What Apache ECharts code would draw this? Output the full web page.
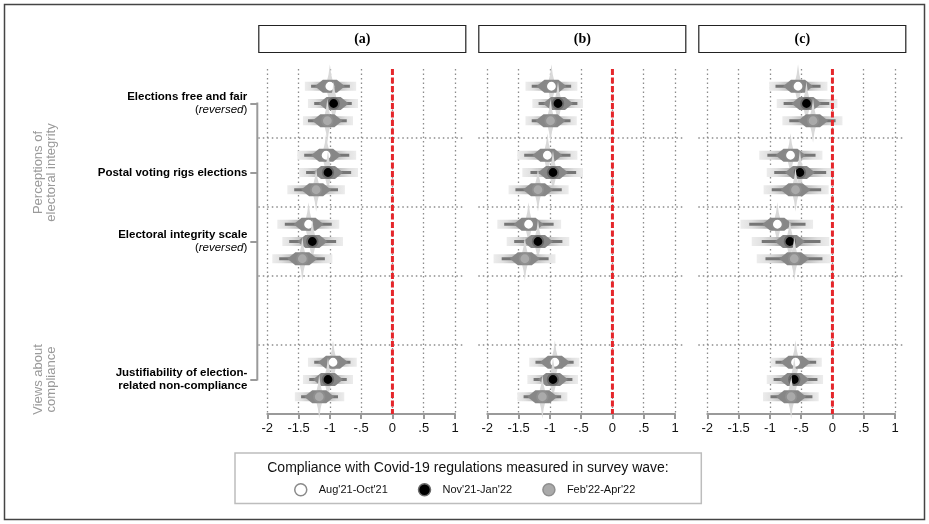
<!DOCTYPE html>
<html>
<head>
<meta charset="utf-8">
<script src="https://cdn.jsdelivr.net/npm/echarts@6/dist/echarts.min.js"></script>
<style>html,body{margin:0;padding:0;background:#fff}#chart{width:929px;height:524px}</style>
</head>
<body>
<div id="chart"></div>
<script>
// ---------------- data ----------------
const panels = ['(a)', '(b)', '(c)'];
const waves = ["Aug'21-Oct'21", "Nov'21-Jan'22", "Feb'22-Apr'22"];
const rowLabels = ['Elections free and fair\n(reversed)', 'Postal voting rigs elections', 'Electoral integrity scale\n(reversed)', '', 'Justifiability of election-\nrelated non-compliance'];
const rowIndex = [0, 1, 2, 4];            // rows that carry estimates
const separators = [1, 2, 3, 4];          // dotted row boundaries
const groupLabels = ['Perceptions of\nelectoral integrity', 'Views about\ncompliance'];
const legendTitle = 'Compliance with Covid-19 regulations measured in survey wave:';

// panel (a): rows = [free&fair, postal, integrity scale, justifiability]; one array per wave
const a_est    = [[-1.00, -1.06, -1.34, -0.95], [-0.94, -1.03, -1.28, -1.03], [-1.04, -1.22, -1.44, -1.17]];
const a_bandLo = [[-1.40, -1.52, -1.84, -1.35], [-1.35, -1.49, -1.76, -1.43], [-1.43, -1.68, -1.92, -1.56]];
const a_bandHi = [[-0.58, -0.58, -0.85, -0.57], [-0.55, -0.55, -0.79, -0.63], [-0.63, -0.76, -0.96, -0.77]];
const a_lineLo = [[-1.30, -1.41, -1.72, -1.25], [-1.25, -1.38, -1.65, -1.33], [-1.35, -1.57, -1.81, -1.46]];
const a_lineHi = [[-0.68, -0.69, -0.97, -0.67], [-0.65, -0.66, -0.90, -0.73], [-0.73, -0.87, -1.08, -0.87]];
// panel (b)
const b_est    = [[-0.975, -1.04, -1.34, -0.92], [-0.87, -0.95, -1.19, -0.95], [-0.99, -1.19, -1.40, -1.12]];
const b_bandLo = [[-1.39, -1.52, -1.84, -1.33], [-1.28, -1.44, -1.69, -1.36], [-1.39, -1.66, -1.90, -1.52]];
const b_bandHi = [[-0.56, -0.56, -0.82, -0.53], [-0.47, -0.47, -0.69, -0.55], [-0.57, -0.70, -0.91, -0.72]];
const b_lineLo = [[-1.29, -1.41, -1.73, -1.23], [-1.18, -1.31, -1.57, -1.26], [-1.29, -1.55, -1.77, -1.42]];
const b_lineHi = [[-0.66, -0.67, -0.94, -0.62], [-0.56, -0.58, -0.80, -0.64], [-0.67, -0.81, -1.02, -0.82]];
// panel (c)
const c_est    = [[-0.55, -0.67, -0.88, -0.59], [-0.415, -0.52, -0.68, -0.61], [-0.31, -0.59, -0.61, -0.66]];
const c_bandLo = [[-1.01, -1.17, -1.47, -0.99], [-0.89, -1.05, -1.29, -1.05], [-0.80, -1.10, -1.21, -1.11]];
const c_bandHi = [[-0.08, -0.16, -0.31, -0.17], [0.08, 0.03, -0.05, -0.15], [0.16, -0.06, -0.03, -0.22]];
const c_lineLo = [[-0.91, -1.04, -1.33, -0.91], [-0.78, -0.93, -1.13, -0.94], [-0.69, -0.97, -1.07, -0.99]];
const c_lineHi = [[-0.19, -0.27, -0.43, -0.26], [-0.05, -0.10, -0.19, -0.24], [0.05, -0.18, -0.16, -0.32]];

const panelData = [
  [a_est, a_bandLo, a_bandHi, a_lineLo, a_lineHi],
  [b_est, b_bandLo, b_bandHi, b_lineLo, b_lineHi],
  [c_est, c_bandLo, c_bandHi, c_lineLo, c_lineHi]
];

// ---------------- styling ----------------
const FONT = "'Liberation Sans', Arial, Helvetica, sans-serif";
const SERIF = "'Liberation Serif', 'Times New Roman', serif";
const waveFill = ['#ffffff', '#000000', '#aaaaaa'];
const waveStroke = ['#8a8a8a', '#6a6a6a', '#8f8f8f'];
const gridLefts = [267.3, 487.3, 707.3];
const gridW = 187.7, gridTop = 69, gridH = 345;

function gradient(toRight) {
  const stops = [
    { offset: 0, color: '#ececec' },
    { offset: 0.3, color: '#e0e0e0' },
    { offset: 0.6, color: '#c4c4c4' },
    { offset: 0.85, color: '#9c9c9c' },
    { offset: 1, color: '#8a8a8a' }
  ];
  const s = toRight ? stops : stops.map(o => ({ offset: 1 - o.offset, color: o.color })).reverse();
  return { type: 'linear', x: 0, y: 0, x2: 1, y2: 0, colorStops: s };
}

function renderMark(params, api) {
  const y = api.value(1);
  const c = api.coord([api.value(0), y]);
  const bl = api.coord([api.value(2), y])[0], bh = api.coord([api.value(3), y])[0];
  const ll = api.coord([api.value(4), y])[0], lh = api.coord([api.value(5), y])[0];
  const w = api.value(6);
  const cx = c[0], cy = c[1];
  return {
    type: 'group',
    children: [
      { type: 'polygon', shape: { points: [[cx, cy - 22], [cx + 1.3, cy - 12], [cx + 3, cy - 5], [cx + 3, cy + 5], [cx + 1.3, cy + 12], [cx, cy + 22], [cx - 1.3, cy + 12], [cx - 3, cy + 5], [cx - 3, cy - 5], [cx - 1.3, cy - 12]] }, style: { fill: '#d9d9d9' } },
      { type: 'rect', shape: { x: bl, y: cy - 4.5, width: cx - bl, height: 9 }, style: { fill: gradient(true) } },
      { type: 'rect', shape: { x: cx, y: cy - 4.5, width: bh - cx, height: 9 }, style: { fill: gradient(false) } },
      { type: 'rect', shape: { x: ll, y: cy - 1.4, width: lh - ll, height: 2.8 }, style: { fill: '#767676' } },
      { type: 'polygon', shape: { points: [[cx - 15, cy], [cx - 7, cy - 6.5], [cx + 7, cy - 6.5], [cx + 15, cy], [cx + 7, cy + 6.5], [cx - 7, cy + 6.5]] }, style: { fill: '#878787' } },
      { type: 'circle', shape: { cx: cx, cy: cy, r: 5.3 }, style: { fill: waveFill[w], stroke: waveStroke[w], lineWidth: 1.8 } }
    ]
  };
}

function renderSeparator(params, api) {
  const v = api.value(0);
  const p0 = api.coord([-2, v]), p1 = api.coord([1, v]);
  return { type: 'line', shape: { x1: p0[0] - 9, y1: p0[1], x2: p1[0] + 10, y2: p1[1] }, style: { stroke: '#8c8c8c', lineWidth: 1.3, lineDash: [1.5, 3] } };
}

function renderBracket(params, api) {
  const p0 = api.coord([-2, api.value(0)]), p1 = api.coord([-2, api.value(1)]);
  return { type: 'line', shape: { x1: p0[0] - 10, y1: p0[1] - 1, x2: p1[0] - 10, y2: p1[1] + 1 }, style: { stroke: '#9a9a9a', lineWidth: 2 } };
}

const grids = [], xAxes = [], yAxes = [], series = [];
panels.forEach((p, pi) => {
  grids.push({ left: gridLefts[pi], top: gridTop, width: gridW, height: gridH });
  xAxes.push({
    type: 'value', gridIndex: pi, min: -2, max: 1, interval: 0.5, position: 'bottom',
    axisLine: { show: true, onZero: false, lineStyle: { color: '#9a9a9a', width: 2 } },
    axisTick: { show: true, length: 5, lineStyle: { color: '#9a9a9a', width: 2 } },
    axisLabel: { margin: 8, color: '#111', fontSize: 13, fontFamily: FONT,
      formatter: v => v === 0 ? '0' : String(v).replace('0.', '.') },
    splitLine: { show: true, lineStyle: { color: '#8c8c8c', width: 1.3, type: [1.5, 3] } }
  });
  yAxes.push({ type: 'value', gridIndex: pi, min: 0, max: 5, inverse: true, show: false });
});
// category axis carrying the outcome labels (panel a)
yAxes.push({
  type: 'category', gridIndex: 0, data: rowLabels, inverse: true, position: 'left', offset: 10,
  axisLine: { show: false },
  axisTick: { show: true, alignWithLabel: true, length: 7, interval: (i) => i !== 3, lineStyle: { color: '#9a9a9a', width: 2 } },
  axisLabel: {
    interval: 0, margin: 10, align: 'right',
    formatter: v => v.split('\n').map(l => l === '(reversed)' ? '{n|(}{i|reversed}{n|)}' : '{b|' + l + '}').join('\n'),
    rich: {
      b: { fontFamily: FONT, fontWeight: 'bold', fontSize: 11.5, color: '#000', lineHeight: 13.5, align: 'right' },
      i: { fontFamily: FONT, fontStyle: 'italic', fontSize: 11.5, color: '#000', lineHeight: 13.5 },
      n: { fontFamily: FONT, fontSize: 11.5, color: '#000', lineHeight: 13.5 }
    }
  },
  splitLine: { show: false }
});

panels.forEach((p, pi) => {
  const [est, bLo, bHi, lLo, lHi] = panelData[pi];
  series.push({ type: 'custom', name: 'sep' + pi, xAxisIndex: pi, yAxisIndex: pi, silent: true, z: 1,
    data: separators.map(s => [s]), encode: { y: 0 }, renderItem: renderSeparator });
  waves.forEach((wv, wi) => {
    const data = rowIndex.map((r, k) => [est[wi][k], r + 0.5 + (wi - 1) * 0.25, bLo[wi][k], bHi[wi][k], lLo[wi][k], lHi[wi][k], wi]);
    series.push({ type: 'custom', name: wv, xAxisIndex: pi, yAxisIndex: pi, z: 3, silent: true,
      itemStyle: { color: waveFill[wi] },
      data: data, encode: { x: [0, 2, 3, 4, 5], y: 1 }, renderItem: renderMark });
  });
  series.push({ type: 'line', name: 'zero' + pi, xAxisIndex: pi, yAxisIndex: pi, data: [[0, 0], [0, 5]],
    symbol: 'none', silent: true, z: 6, lineStyle: { color: '#e5262b', width: 3, type: [6, 2.5] } });
});
series.push({ type: 'custom', name: 'bracket', xAxisIndex: 0, yAxisIndex: 0, silent: true, z: 2,
  data: [[rowIndex[0] + 0.5, rowIndex[rowIndex.length - 1] + 0.5]], encode: { y: [0, 1] }, renderItem: renderBracket });

const graphics = [
  { type: 'rect', shape: { x: 4.5, y: 4.5, width: 920, height: 515 }, style: { fill: 'none', stroke: '#444', lineWidth: 1.5 }, z: 0 }
];
panels.forEach((p, pi) => {
  const bx = gridLefts[pi] - 9;
  graphics.push({ type: 'rect', shape: { x: bx + 0.5, y: 25.5, width: 207, height: 27 }, style: { fill: '#fff', stroke: '#222', lineWidth: 1.2 } });
  graphics.push({ type: 'text', x: bx + 104, y: 39, style: { text: p, font: 'bold 14px ' + SERIF, fill: '#000', textAlign: 'center', textVerticalAlign: 'middle' } });
});
graphics.push({ type: 'text', x: 45, y: 172.5, rotation: Math.PI / 2, style: { text: groupLabels[0], font: '13px ' + FONT, fill: '#9a9a9a', textAlign: 'center', textVerticalAlign: 'middle', lineHeight: 13 } });
graphics.push({ type: 'text', x: 45, y: 379.5, rotation: Math.PI / 2, style: { text: groupLabels[1], font: '13px ' + FONT, fill: '#9a9a9a', textAlign: 'center', textVerticalAlign: 'middle', lineHeight: 13 } });
graphics.push({ type: 'text', x: 468, y: 468, style: { text: legendTitle, font: '14px ' + FONT, fill: '#111', textAlign: 'center', textVerticalAlign: 'middle' } });

const option = {
  animation: false,
  backgroundColor: '#fff',
  grid: grids,
  xAxis: xAxes,
  yAxis: yAxes,
  legend: {
    left: 235, top: 453, orient: 'horizontal',
    padding: [30, 66, 7, 59],
    borderColor: '#bdbdbd', borderWidth: 1.5,
    itemWidth: 12, itemHeight: 12, itemGap: 30,
    selectedMode: false,
    textStyle: { fontFamily: FONT, fontSize: 11, color: '#111', padding: [0, 0, 0, 7] },
    data: waves.map((w, i) => ({ name: w, icon: 'circle', itemStyle: { color: waveFill[i], borderColor: waveStroke[i], borderWidth: 1.5 } }))
  },
  graphic: graphics,
  series: series
};
const chart = echarts.init(document.getElementById('chart'), null, { renderer: 'canvas' });
chart.setOption(option);
</script>
</body>
</html>
